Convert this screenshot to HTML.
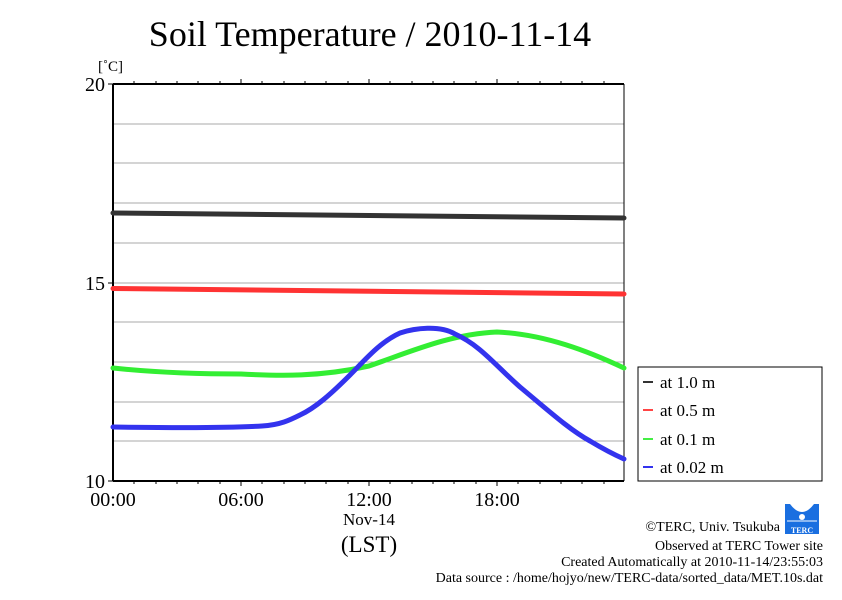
<!DOCTYPE html>
<html><head><meta charset="utf-8"><style>
body{margin:0;background:#fff;}
svg text{font-family:"Liberation Serif",serif;}
</style></head><body>
<svg width="842" height="595" viewBox="0 0 842 595" xmlns="http://www.w3.org/2000/svg">
<rect width="842" height="595" fill="#fff"/>
<text x="370" y="46" font-size="36" text-anchor="middle">Soil Temperature / 2010-11-14</text>
<text x="98" y="71" font-size="15">[˚C]</text>
<g stroke="#aaa" stroke-width="1">
<line x1="113" y1="124" x2="624" y2="124"/><line x1="113" y1="163" x2="624" y2="163"/>
<line x1="113" y1="203" x2="624" y2="203"/><line x1="113" y1="243" x2="624" y2="243"/>
<line x1="113" y1="283" x2="624" y2="283"/><line x1="113" y1="322" x2="624" y2="322"/>
<line x1="113" y1="362" x2="624" y2="362"/><line x1="113" y1="402" x2="624" y2="402"/>
<line x1="113" y1="441" x2="624" y2="441"/>
</g>
<g stroke="#000" stroke-width="1">
<line x1="113" y1="84" x2="113" y2="481" stroke-width="2"/>
<line x1="113" y1="84" x2="624" y2="84" stroke-width="2"/>
<line x1="624" y1="84" x2="624" y2="481"/>
<line x1="113" y1="481" x2="624" y2="481" stroke-width="2"/>
<line x1="108" y1="84" x2="113" y2="84"/><line x1="108" y1="283" x2="113" y2="283"/><line x1="108" y1="481" x2="113" y2="481"/>
</g>
<g stroke="#000" stroke-width="1">
<path d="M134 84v-3M156 84v-3M177 84v-3M198 84v-3M220 84v-3M241 84v-5M262 84v-3M284 84v-3M305 84v-3M326 84v-3M348 84v-3M369 84v-5M390 84v-3M412 84v-3M433 84v-3M454 84v-3M476 84v-3M497 84v-5M518 84v-3M540 84v-3M561 84v-3M582 84v-3M604 84v-3"/>
<path d="M134 481v3M156 481v3M177 481v3M198 481v3M220 481v3M241 481v5M262 481v3M284 481v3M305 481v3M326 481v3M348 481v3M369 481v5M390 481v3M412 481v3M433 481v3M454 481v3M476 481v3M497 481v5M518 481v3M540 481v3M561 481v3M582 481v3M604 481v3"/>
</g>
<g font-size="20" text-anchor="end">
<text x="105" y="91">20</text><text x="105" y="290">15</text><text x="105" y="488">10</text>
</g>
<g font-size="20" text-anchor="middle">
<text x="113" y="506">00:00</text><text x="241" y="506">06:00</text><text x="369" y="506">12:00</text><text x="497" y="506">18:00</text>
<text x="369" y="525" font-size="17">Nov-14</text>
<text x="369" y="552" font-size="23">(LST)</text>
</g>
<g fill="none" stroke-width="5" stroke-linecap="round" stroke-linejoin="round">
<path d="M113 213 L624 218" stroke="#333"/>
<path d="M113 288.5 L624 294" stroke="#f33"/>
<path d="M113 368 C160 373 200 374 241 374 C280 376 320 377 369 366 C410 352 450 334 497 332 C545 334 590 352 624 368" stroke="#3e3"/>
<path d="M113 427 C180 428 230 428 262 426 C280 425 290 420 300 415 C315 408 330 395 350 375 C365 360 380 342 400 333 C415 328 440 325 455 334 C480 345 495 365 520 387 C550 412 570 430 590 441 C605 450 615 455 624 459" stroke="#33e"/>
</g>
<rect x="638" y="367" width="184" height="114" fill="#fff" stroke="#000" stroke-width="1"/>
<g stroke-width="2">
<line x1="643" y1="382" x2="653" y2="382" stroke="#333"/>
<line x1="643" y1="410" x2="653" y2="410" stroke="#f44"/>
<line x1="643" y1="439" x2="653" y2="439" stroke="#4e4"/>
<line x1="643" y1="467" x2="653" y2="467" stroke="#33e"/>
</g>
<g font-size="17">
<text x="660" y="388">at 1.0 m</text><text x="660" y="416">at 0.5 m</text>
<text x="660" y="445">at 0.1 m</text><text x="660" y="473">at 0.02 m</text>
</g>
<g>
<rect x="785" y="504" width="34" height="30" fill="#1a6fe0"/>
<path d="M790 504 Q802 520 814 504 Z" fill="#fff"/>
<circle cx="802" cy="517" r="3" fill="#fff"/>
<path d="M787 521h30" stroke="#fff" stroke-width="1"/>
<text x="802" y="533" font-size="8" fill="#fff" text-anchor="middle" font-weight="bold">TERC</text>
</g>
<g font-size="14" text-anchor="end">
<text x="780" y="531">©TERC, Univ. Tsukuba</text>
<text x="823" y="550">Observed at TERC Tower site</text>
<text x="823" y="566">Created Automatically at 2010-11-14/23:55:03</text>
<text x="823" y="582">Data source : /home/hojyo/new/TERC-data/sorted_data/MET.10s.dat</text>
</g>
</svg>
</body></html>
